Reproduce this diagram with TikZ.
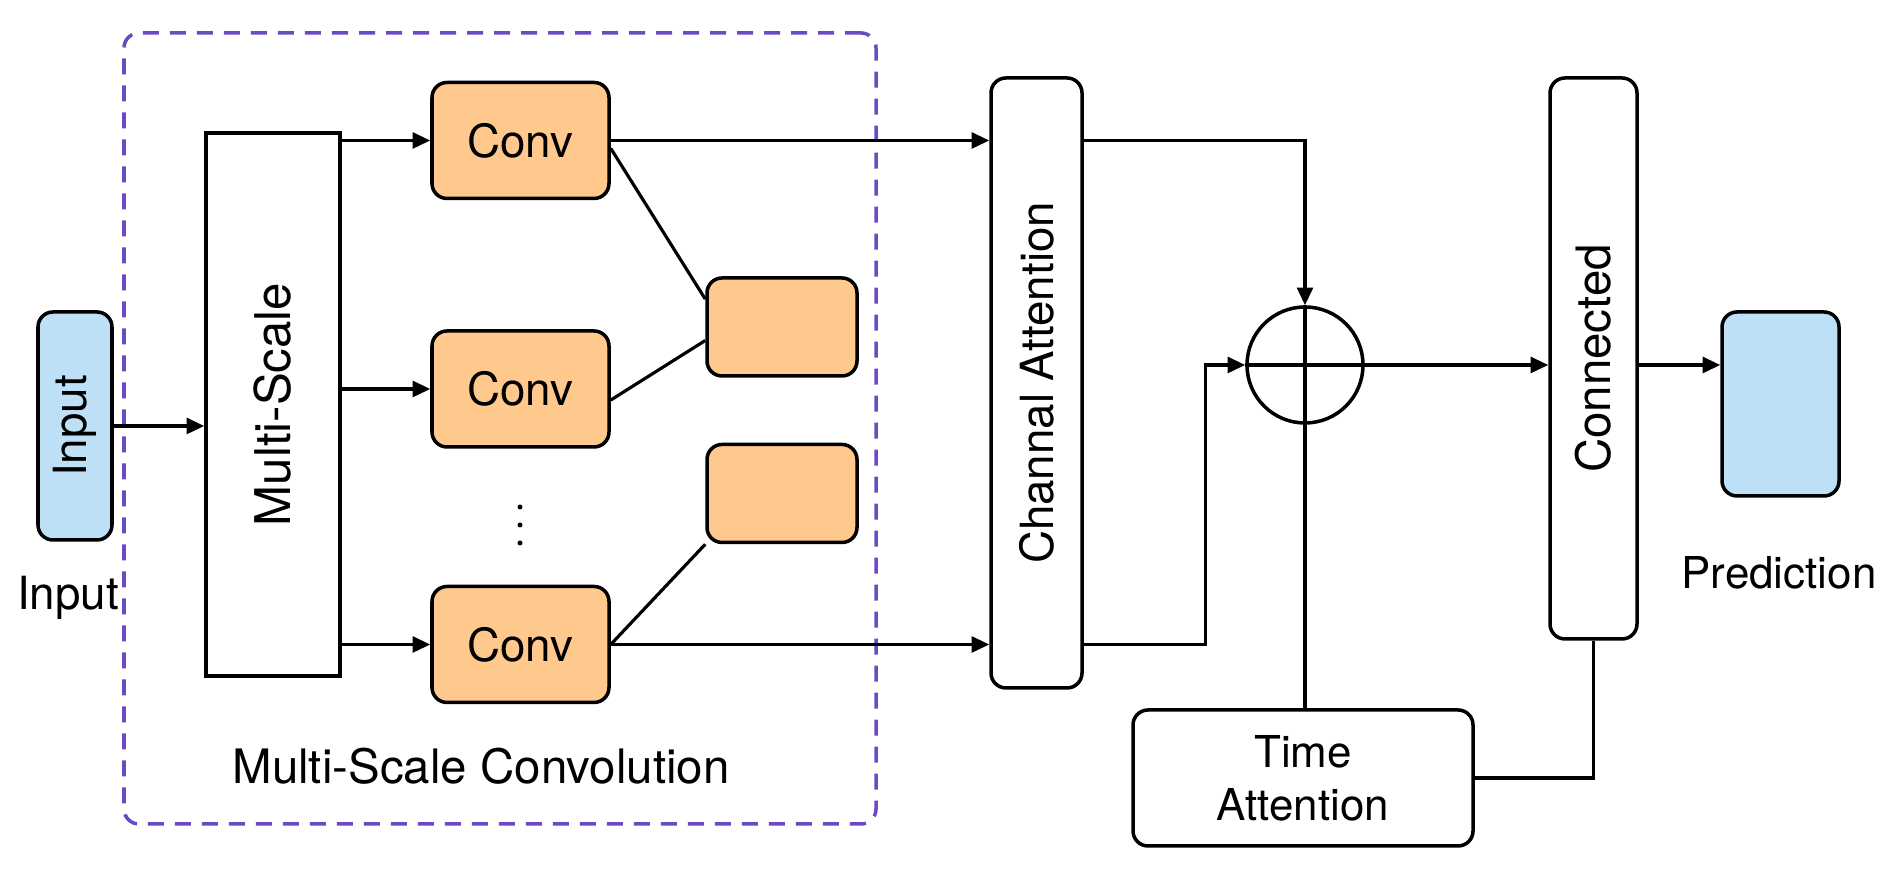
\documentclass[tikz,border=0pt]{standalone}
\usepackage{fontspec}
\setmainfont{TeX Gyre Heros}
\usetikzlibrary{arrows.meta,positioning,calc}
\definecolor{convfill}{HTML}{FFC88C}
\definecolor{iofill}{HTML}{BEE0F6}
\definecolor{groupline}{HTML}{6A4BC4}
\tikzset{
  plainbox/.style={draw, line width=1pt, rounded corners=0.15cm, inner sep=0pt,
    font=\fontsize{13}{15.5}\selectfont, fill=white},
  convbox/.style={plainbox, fill=convfill, minimum width=1.77cm, minimum height=1.16cm},
  poolbox/.style={plainbox, fill=convfill, minimum width=1.50cm, minimum height=0.98cm},
  iobox/.style={plainbox, fill=iofill},
  groupbox/.style={draw=groupline, line width=1pt, dash pattern=on 0.16cm off 0.11cm,
    rounded corners=0.15cm, minimum width=7.52cm, minimum height=7.91cm},
  txt/.style={font=\fontsize{13}{15.5}\selectfont, inner sep=0pt},
  arr/.style={-{Triangle[length=5pt,width=4.5pt]}, line width=0.9pt},
  conn/.style={line width=0.9pt}
}

\begin{document}
\begin{tikzpicture}[x=1cm,y=1cm]
  \useasboundingbox (0,0) rectangle (18.91,8.73);
  % multi-scale convolution block
  \node[groupbox] (msc) at (5.00,4.445) {};
  \node[txt, font=\fontsize{13.5}{16}\selectfont] (msclabel) at (4.81,1.07) {Multi-Scale Convolution};
  \node[iobox, minimum width=0.74cm, minimum height=2.28cm,
    label={[rotate=90, txt]center:Input}] (inp) at (0.75,4.47) {};
  \node[txt] (inplabel) at (0.68,2.75) {Input};
  \node[draw, line width=1pt, inner sep=0pt, minimum width=1.34cm, minimum height=5.43cm,
    label={[rotate=90, txt, font=\fontsize{14}{16}\selectfont]center:Multi-Scale}] (ms) at (2.73,4.685) {};
  \node[convbox] (conv1) at (5.205,7.325) {Conv};
  \node[convbox] (conv2) at (5.205,4.84) {Conv};
  \node[convbox] (conv3) at (5.205,2.285) {Conv};
  \coordinate (dots) at (5.20,3.48);
  \foreach \d in {-0.18,0,0.18}
    \fill (dots) ++(0,\d) circle (0.025);
  \node[poolbox] (pool1) at (7.82,5.46) {};
  \node[poolbox] (pool2) at (7.82,3.795) {};
  % attention and output
  \node[plainbox, minimum width=0.91cm, minimum height=6.10cm,
    label={[rotate=90, txt]center:Channal Attention}] (ca) at (10.365,4.90) {};
  \node[draw, circle, line width=1pt, minimum size=1.16cm, inner sep=0pt] (add) at (13.05,5.08) {};
  \node[plainbox, minimum width=0.87cm, minimum height=5.61cm,
    label={[rotate=90, txt, font=\fontsize{13.5}{16}\selectfont]center:Connected}] (cn) at (15.935,5.145) {};
  \node[iobox, minimum width=1.17cm, minimum height=1.84cm] (pred) at (17.805,4.69) {};
  \node[txt, font=\fontsize{12.5}{15}\selectfont] (predlabel) at (17.79,3.00) {Prediction};
  \node[plainbox, minimum width=3.40cm, minimum height=1.36cm, align=center,
    font=\fontsize{12.5}{15}\selectfont] (ta) at (13.03,0.95) {Time\\Attention};

  \draw[arr] (inp.east) -- (inp.east -| ms.west);
  \foreach \c in {conv1,conv2,conv3} {
    \draw[arr] (ms.east |- \c.west) -- (\c.west);
  }
  \draw[conn] (conv1.355) -- (pool1.160);
  \draw[conn] (conv2.353) -- (pool1.190);
  \draw[conn] (conv3.east) -- (pool2.south west);
  \draw[arr] (conv1.east) -- (conv1.east -| ca.west);
  \draw[arr] (conv3.east) -- (conv3.east -| ca.west);
  \draw[arr] (ca.east |- conv1.east) -| (add.north);
  \draw[arr] (ca.east |- conv3.east) -| ([xshift=-4mm]add.west) -- (add.west);
  \draw[conn] (add.north) -- (add.north |- ta.north);
  \draw[arr] (add.west) -- (add.west -| cn.west);
  \draw[arr] (cn.east |- add.east) -- (pred.west |- add.east);
  \draw[conn] (cn.south) |- (ta.east);
\end{tikzpicture}
\end{document}
